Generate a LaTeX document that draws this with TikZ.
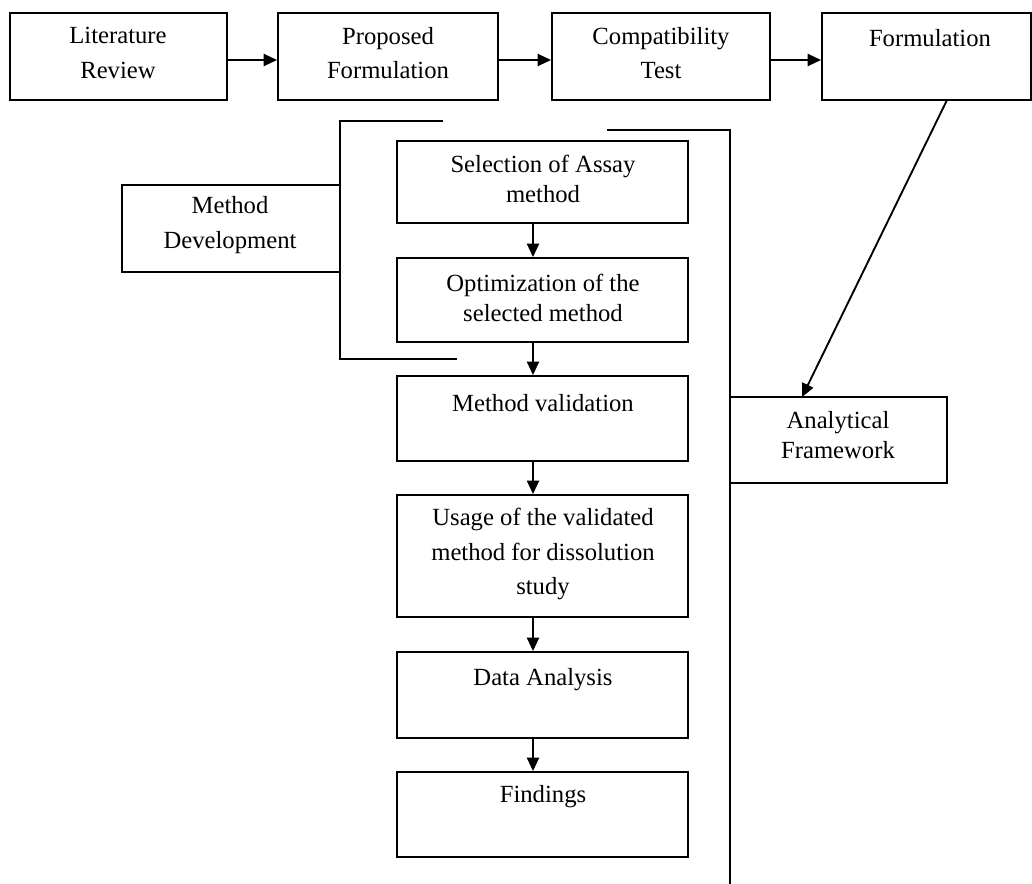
\documentclass[tikz,border=0pt]{standalone}
\usepackage{fontspec}
\setmainfont{Liberation Serif}
\usetikzlibrary{arrows.meta,calc}
\begin{document}
\begin{tikzpicture}[x=0.75pt,y=-0.75pt,
  box/.style={draw,line width=1.4pt,rectangle,inner sep=0pt},
  txt/.style={align=center,font=\fontsize{18.5}{26}\selectfont,inner sep=0pt},
  txts/.style={align=center,font=\fontsize{18.5}{23}\selectfont,inner sep=0pt},
  arr/.style={line width=1.4pt,-{Triangle[length=10pt,width=9pt]}},
  ln/.style={line width=1.4pt}]
\useasboundingbox (0,0) rectangle (1032,884);
% boxes
\node[box,minimum width=217*0.75pt,minimum height=87*0.75pt] (lr) at (118.5,56.5) {};
\node[box,minimum width=220*0.75pt,minimum height=87*0.75pt] (pf) at (388,56.5) {};
\node[box,minimum width=218*0.75pt,minimum height=87*0.75pt] (ct) at (661,56.5) {};
\node[box,minimum width=209*0.75pt,minimum height=87*0.75pt] (fo) at (926.5,56.5) {};
\node[box,minimum width=218*0.75pt,minimum height=87*0.75pt] (md) at (231,228.5) {};
\node[box,minimum width=291*0.75pt,minimum height=82*0.75pt] (sa) at (542.5,182) {};
\node[box,minimum width=291*0.75pt,minimum height=84*0.75pt] (op) at (542.5,300) {};
\node[box,minimum width=291*0.75pt,minimum height=85*0.75pt] (mv) at (542.5,418.5) {};
\node[box,minimum width=291*0.75pt,minimum height=122*0.75pt] (us) at (542.5,556) {};
\node[box,minimum width=291*0.75pt,minimum height=86*0.75pt] (da) at (542.5,695) {};
\node[box,minimum width=291*0.75pt,minimum height=85*0.75pt] (fi) at (542.5,814.5) {};
\node[box,minimum width=217*0.75pt,minimum height=86*0.75pt] (af) at (838.5,440) {};
% texts
\node[txt] (tlr) at (118,53) {Literature\\Review};
\node[txt] (tpf) at (388,53) {Proposed\\Formulation};
\node[txt] (tct) at (661,53) {Compatibility\\Test};
\node[txt] (tfo) at (930,38) {Formulation};
\node[txt] (tmd) at (230,225) {Method\\Development};
\node[txts] (tsa) at (543,179) {Selection of Assay\\method};
\node[txts] (top) at (543,298) {Optimization of the\\selected method};
\node[txt] (tmv) at (543,403) {Method validation};
\node[txt] (tus) at (543,554) {Usage of the validated\\method for dissolution\\study};
\node[txt] (tda) at (543,680) {Data Analysis};
\node[txt] (tfi) at (543,797) {Findings};
\node[txts] (taf) at (838,435) {Analytical\\Framework};
% top row arrows
\coordinate (ay) at (0,60);
\draw[arr] (lr.east |- ay) -- (pf.west |- ay);
\draw[arr] (pf.east |- ay) -- (ct.west |- ay);
\draw[arr] (ct.east |- ay) -- (fo.west |- ay);
% vertical arrows
\coordinate (ax) at (533,0);
\draw[arr] (sa.south -| ax) -- (op.north -| ax);
\draw[arr] (op.south -| ax) -- (mv.north -| ax);
\draw[arr] (mv.south -| ax) -- (us.north -| ax);
\draw[arr] (us.south -| ax) -- (da.north -| ax);
\draw[arr] (da.south -| ax) -- (fi.north -| ax);
% diagonal arrow
\coordinate (fstart) at (947,100);
\coordinate (fend) at (802,397);
\draw[arr] (fstart) -- (fend);
% left bracket
\coordinate (lbt) at (443,121);
\coordinate (lbb) at (457,359);
\draw[ln] (lbt) -- (340,121) -- (340,359) -- (lbb);
% right bracket
\coordinate (rbt) at (607,130);
\coordinate (rbb) at (730,884);
\draw[ln] (rbt) -- (730,130) -- (rbb);
\end{tikzpicture}
\end{document}
